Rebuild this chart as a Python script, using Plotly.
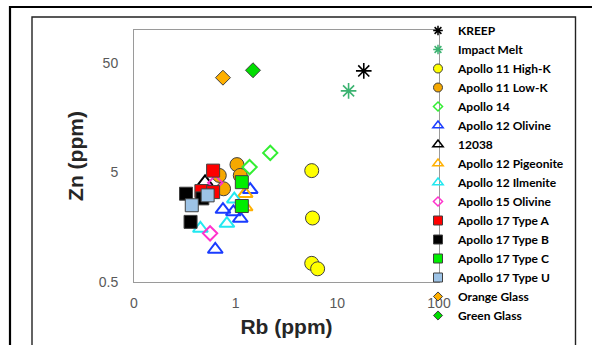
import plotly.graph_objects as go

# ---- data (Rb ppm, Zn ppm) ----
series_names = ["KREEP", "Impact Melt", "Apollo 11 High-K", "Apollo 11 Low-K", "Apollo 14",
                "Apollo 12 Olivine", "12038", "Apollo 12 Pigeonite", "Apollo 12 Ilmenite",
                "Apollo 15 Olivine", "Apollo 17 Type A", "Apollo 17 Type B", "Apollo 17 Type C",
                "Apollo 17 Type U", "Orange Glass", "Green Glass"]

kreep_rb = [18.2]
kreep_zn = [42.3]
impact_rb = [12.9]
impact_zn = [27.8]
a11hk_rb = [5.6, 5.7, 5.6, 6.4]
a11hk_zn = [5.2, 1.92, 0.74, 0.66]
a11lk_rb = [1.03, 1.11, 0.69, 0.76]
a11lk_zn = [5.9, 4.7, 4.7, 3.55]
a14_rb = [2.19, 1.37]
a14_zn = [7.55, 5.6]
a12ol_rb = [1.39, 0.75, 0.95, 1.11, 0.63]
a12ol_zn = [3.48, 2.29, 2.18, 1.90, 0.99]
s12038_rb = [0.50]
s12038_zn = [4.1]
a12pig_rb = [1.24, 1.24]
a12pig_zn = [3.2, 2.42]
a12ilm_rb = [0.97, 0.82, 0.45]
a12ilm_zn = [2.85, 1.71, 1.54]
a15ol_rb = [0.56, 0.63]
a15ol_zn = [1.39, 4.03]
a17a_rb = [0.60, 0.46, 0.60]
a17a_zn = [5.2, 3.38, 3.31]
a17b_rb = [0.325, 0.36, 0.47]
a17b_zn = [3.2, 1.77, 2.9]
a17c_rb = [1.15, 1.15]
a17c_zn = [4.08, 2.47]
a17u_rb = [0.37, 0.53]
a17u_zn = [2.51, 3.09]
og_rb = [0.75]
og_zn = [36.7]
gg_rb = [1.48]
gg_zn = [42.9]

x_tickvals = [0.1, 1, 10, 100]
x_ticktext = ["0", "1", "10", "100"]
y_tickvals = [0.5, 5, 50]
y_ticktext = ["0.5", "5", "50"]

xs = [kreep_rb, impact_rb, a11hk_rb, a11lk_rb, a14_rb, a12ol_rb, s12038_rb, a12pig_rb,
      a12ilm_rb, a15ol_rb, a17a_rb, a17b_rb, a17c_rb, a17u_rb, og_rb, gg_rb]
ys = [kreep_zn, impact_zn, a11hk_zn, a11lk_zn, a14_zn, a12ol_zn, s12038_zn, a12pig_zn,
      a12ilm_zn, a15ol_zn, a17a_zn, a17b_zn, a17c_zn, a17u_zn, og_zn, gg_zn]

OUT = "#404040"
# (symbol, fill, line color, line width, plot size, legend size)
styles = [
    ("asterisk-open", "black", "black", 1.6, 13, 8),
    ("asterisk-open", "#3CB371", "#3CB371", 1.6, 13, 8),
    ("circle", "#FFFF00", OUT, 1, 14, 9),
    ("circle", "#F5A800", OUT, 1, 14, 9),
    ("diamond-open", "#33EE33", "#33EE33", 2, 11, 7),
    ("triangle-up-open", "#1A3CFF", "#1A3CFF", 2, 13, 9),
    ("triangle-up-open", "black", "black", 2, 13, 9),
    ("triangle-up-open", "#FFB000", "#FFB000", 2, 13, 9),
    ("triangle-up-open", "#22E8F0", "#22E8F0", 2, 13, 9),
    ("diamond-open", "#FF33CC", "#FF33CC", 2, 11, 7),
    ("square", "#FF0000", OUT, 1, 13, 9),
    ("square", "#000000", OUT, 1, 13, 9),
    ("square", "#00EE00", OUT, 1, 13, 9),
    ("square", "#9DC3E6", OUT, 1, 13, 9),
    ("diamond", "#FFB000", OUT, 1, 11.5, 7),
    ("diamond", "#00DD00", OUT, 1, 11.5, 7),
]

fig = go.Figure()
for name, x, y, st in zip(series_names, xs, ys, styles):
    sym, fill, lc, lw, sz, lsz = st
    fig.add_trace(go.Scatter(x=x, y=y, mode="markers", name=name, showlegend=False,
                             marker=dict(symbol=sym, color=fill, size=sz,
                                         line=dict(color=lc, width=lw))))
for name, st in zip(series_names, styles):
    sym, fill, lc, lw, sz, lsz = st
    fig.add_trace(go.Scatter(x=[None], y=[None], mode="markers", name=name, showlegend=True,
                             marker=dict(symbol=sym, color=fill, size=lsz,
                                         line=dict(color=lc, width=min(lw, 1.5)))))

L, R, T, B = 134, 153, 30, 63
PW, PH = 592 - L - R, 345 - T - B

def px(xp):
    return (xp - L) / PW

def py(yp):
    return (345 - B - yp) / PH

shapes = [
    dict(type="rect", xref="paper", yref="paper", x0=px(10), x1=px(620), y0=py(7), y1=py(400),
         line=dict(color="black", width=2.2), fillcolor="rgba(0,0,0,0)", layer="below"),
    dict(type="rect", xref="paper", yref="paper", x0=px(32), x1=px(575.5), y0=py(17), y1=py(400),
         line=dict(color="#222", width=1.4), fillcolor="rgba(0,0,0,0)", layer="below"),
]

fig.update_layout(
    width=592, height=345,
    margin=dict(l=L, r=R, t=T, b=B),
    paper_bgcolor="white", plot_bgcolor="white",
    shapes=shapes,
    legend=dict(x=px(418), y=py(16), xanchor="left", yanchor="top", maxheight=400,
                font=dict(family="Lato", size=12, color="black", weight="bold"),
                bgcolor="rgba(0,0,0,0)", tracegroupgap=0, itemsizing="trace"),
    xaxis=dict(type="log", range=[-1, 2], tickvals=x_tickvals, ticktext=x_ticktext,
               showgrid=False, zeroline=False, showline=True, mirror=True,
               linecolor="#9a9a9a", linewidth=1, ticks="", ticklabelstandoff=8,
               tickfont=dict(family="Liberation Sans", size=14, color="#595959"),
               title=dict(text="Rb (ppm)", standoff=9,
                          font=dict(family="Liberation Sans", size=21, color="#262626",
                                    weight="bold"))),
    yaxis=dict(type="log", range=[-0.30103, 2], tickvals=y_tickvals, ticktext=y_ticktext,
               showgrid=False, zeroline=False, showline=True, mirror=True,
               linecolor="#9a9a9a", linewidth=1, ticks="", ticklabelstandoff=12,
               tickfont=dict(family="Liberation Sans", size=14, color="#595959"),
               title=dict(text="Zn (ppm)", standoff=9,
                          font=dict(family="Liberation Sans", size=21, color="#262626",
                                    weight="bold"))),
)

fig.write_html("out.html")
